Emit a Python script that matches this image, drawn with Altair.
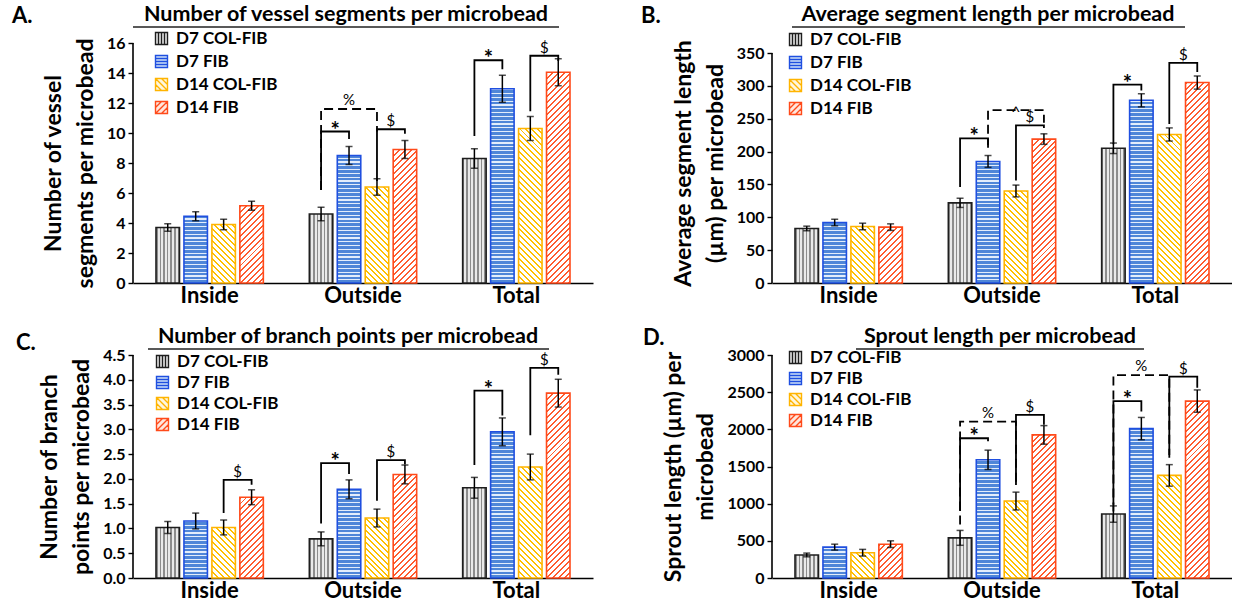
import math
import altair as alt

FONT = "Lato"
CATS = ["Inside", "Outside", "Total"]
SERIES = ["D7 COL-FIB", "D7 FIB", "D14 COL-FIB", "D14 FIB"]

# bar styling (outline, hatch line colour, hatch background, hatch kind, period, line thickness)
STROKE_COLORS = ["#1e1e1e", "#1f4fe0", "#ffb400", "#ff4a1a"]
LINE_COLORS = ["#8c8c8c", "#4f86d8", "#ffc000", "#ff5b2e"]
BG_COLORS = ["#e9e9e9", "#e3edfb", "#ffffff", "#ffffff"]
LEGEND_FILLS = ["#e9e9e9", "#cfe0f7", "#fff6dc", "#ffe6dc"]
HATCH = ["v", "h", "bs", "fs"]
PERIODS = [3.6, 3.8, 4.2, 4.2]
THICK = [1.6, 2.6, 1.4, 1.4]

SQ = "M-1,-1H1V1H-1Z"
LEGEND_PATHS = [
    SQ + "M-0.5,-1V1M0,-1V1M0.5,-1V1",
    SQ + "M-1,-0.5H1M-1,0H1M-1,0.5H1",
    SQ + "M0,-1L1,0M-1,-1L1,1M-1,0L0,1",
    SQ + "M-1,0L0,-1M-1,1L1,-1M0,1L1,0",
]

# ---------------- data (means and SEM per series across Inside / Outside / Total)
A_MEAN = {"D7 COL-FIB": [3.7, 4.6, 8.3], "D7 FIB": [4.45, 8.5, 12.95],
          "D14 COL-FIB": [3.9, 6.4, 10.3], "D14 FIB": [5.15, 8.9, 14.05]}
A_ERR = {"D7 COL-FIB": [0.25, 0.45, 0.65], "D7 FIB": [0.3, 0.6, 0.9],
         "D14 COL-FIB": [0.35, 0.55, 0.8], "D14 FIB": [0.3, 0.6, 0.9]}
# brackets: (category, left series, right series, left foot, top, right foot, symbol, dashed)
A_BRACKETS = [("Outside", 0, 1, 6.2, 10.1, 9.6, "*", False),
              ("Outside", 0, 2, 6.2, 11.6, 10.1, "%", True),
              ("Outside", 2, 3, 6.8, 10.25, 9.95, "$", False),
              ("Total", 0, 1, 9.8, 14.85, 14.25, "*", False),
              ("Total", 2, 3, 11.45, 15.15, 14.8, "$", False)]

B_MEAN = {"D7 COL-FIB": [83, 122, 205], "D7 FIB": [92, 185, 278],
          "D14 COL-FIB": [86, 140, 226], "D14 FIB": [85, 219, 305]}
B_ERR = {"D7 COL-FIB": [3.5, 7, 8], "D7 FIB": [5, 9, 10],
         "D14 COL-FIB": [5, 9, 10], "D14 FIB": [5, 8, 10]}
B_BRACKETS = [("Outside", 0, 1, 146, 220, 210, "*", False),
              ("Outside", 1, 3, 206, 263, 244, "^", True),
              ("Outside", 2, 3, 156, 240, 236, "$", False),
              ("Total", 0, 1, 211, 302, 293, "*", False),
              ("Total", 2, 3, 242, 335, 321, "$", False)]

C_MEAN = {"D7 COL-FIB": [1.02, 0.79, 1.82], "D7 FIB": [1.15, 1.79, 2.95],
          "D14 COL-FIB": [1.02, 1.21, 2.24], "D14 FIB": [1.63, 2.09, 3.73]}
C_ERR = {"D7 COL-FIB": [0.12, 0.14, 0.21], "D7 FIB": [0.16, 0.19, 0.28],
         "D14 COL-FIB": [0.15, 0.18, 0.26], "D14 FIB": [0.15, 0.19, 0.28]}
C_BRACKETS = [("Inside", 2, 3, 1.31, 1.98, 1.88, "$", False),
              ("Outside", 0, 1, 1.1, 2.32, 2.1, "*", False),
              ("Outside", 2, 3, 1.56, 2.38, 2.29, "$", False),
              ("Total", 0, 1, 2.28, 3.78, 3.28, "*", False),
              ("Total", 2, 3, 2.88, 4.24, 4.1, "$", False)]

D_MEAN = {"D7 COL-FIB": [310, 540, 860], "D7 FIB": [415, 1590, 2010],
          "D14 COL-FIB": [340, 1035, 1380], "D14 FIB": [455, 1925, 2380]}
D_ERR = {"D7 COL-FIB": [25, 100, 110], "D7 FIB": [40, 130, 150],
         "D14 COL-FIB": [45, 120, 145], "D14 FIB": [45, 125, 150]}
D_BRACKETS = [("Outside", 0, 1, 900, 1880, 1840, "*", False),
              ("Outside", 0, 2, 720, 2105, 1230, "%", True),
              ("Outside", 2, 3, 1250, 2195, 2060, "$", False),
              ("Total", 0, 1, 985, 2380, 2240, "*", False),
              ("Total", 0, 2, 895, 2730, 1565, "%", True),
              ("Total", 2, 3, 1655, 2710, 2560, "$", False)]

TXT_STYLE = {"*": dict(fontSize=22, fontWeight="bold", dy=6),
             "$": dict(fontSize=15, fontWeight="normal", dy=-3),
             "%": dict(fontSize=15, fontWeight="normal", dy=-4),
             "^": dict(fontSize=16, fontWeight="normal", dy=7)}


def stripes(kind, w, h, line, bg, period, thick):
    w = max(w, 1.0)
    h = max(h, 1.0)
    if kind == "v":
        L = w
        g = dict(x1=0, y1=0, x2=1, y2=0)
    elif kind == "h":
        L = h
        g = dict(x1=0, y1=1, x2=0, y2=0)
    else:
        k = (w + h) * w / (w * w + h * h)
        L = (w + h) / math.sqrt(2)
        if kind == "bs":
            g = dict(x1=0, y1=1, x2=k, y2=1 - k * h / w)
        else:
            g = dict(x1=0, y1=0, x2=k, y2=k * h / w)
    step = period / L
    tf = thick / L
    stops = []
    t = 0.0
    while t < 1:
        b = min(t + tf, 1.0)
        c = min(t + step, 1.0)
        stops += [{"offset": round(t, 5), "color": line}, {"offset": round(b, 5), "color": line},
                  {"offset": round(b, 5), "color": bg}, {"offset": round(c, 5), "color": bg}]
        t += step
    return {"gradient": "linear", **g, "stops": stops}


def panel(cfg):
    W, H, DOM = cfg["W"], cfg["H"], cfg["dom"]
    step = W / 3.0
    bw = 0.7 * step
    ostep = bw / (4 - 0.16)
    barw = ostep * (1 - 0.16)

    rows = []
    for si, s in enumerate(SERIES):
        for ci, c in enumerate(CATS):
            v = cfg["mean"][s][ci]
            e = cfg["err"][s][ci]
            rows.append({"cat": c, "series": s, "v": v, "lo": v - e, "hi": v + e,
                         "stroke": STROKE_COLORS[si],
                         "grad": stripes(HATCH[si], barw, v / DOM * H, LINE_COLORS[si],
                                         BG_COLORS[si], PERIODS[si], THICK[si])})
    data = alt.Data(values=rows)

    xscale = alt.Scale(domain=CATS, paddingInner=0.3, paddingOuter=0.15, align=0.5)
    oscale = alt.Scale(domain=SERIES, paddingInner=0.16, paddingOuter=0)
    yscale = alt.Scale(domain=[0, DOM], nice=False, zero=True)

    xaxis = alt.Axis(labelFont=FONT, labelFontSize=22, labelFontWeight="bold", labelColor="black",
                     ticks=False, domainColor="black", domainWidth=1.6, labelPadding=2, labelAngle=0,
                     grid=False)
    ticks = cfg["ticks"]
    yaxis = alt.Axis(values=ticks, format=cfg["fmt"], labelFont=FONT, labelFontSize=16,
                     labelFontWeight="bold", labelColor="black", tickColor="black", tickSize=5,
                     tickWidth=1.4, domain=False, grid=False, titleFont=FONT, titleFontSize=23,
                     titleFontWeight="bold", titleColor="black", titlePadding=9,
                     titleLineHeight=32, labelPadding=3)

    def X():
        return alt.X("cat:N", scale=xscale, axis=xaxis, title=None)

    def XO():
        return alt.XOffset("series:N", scale=oscale)

    def Y(field):
        return alt.Y(field, scale=yscale, axis=yaxis, title=cfg["ytitle"], stack=None)

    bars = alt.Chart(data).mark_bar(strokeWidth=1.6).encode(
        x=X(), xOffset=XO(), y=Y("v:Q"),
        fill=alt.Fill("grad:N", scale=None),
        stroke=alt.Stroke("stroke:N", scale=None),
    )
    err = alt.Chart(data).mark_rule(color="black", strokeWidth=1.5).encode(
        x=X(), xOffset=XO(), y=Y("lo:Q"), y2="hi:Q")
    cap_lo = alt.Chart(data).mark_tick(color="black", thickness=1.5, size=7).encode(
        x=X(), xOffset=XO(), y=Y("lo:Q"))
    cap_hi = alt.Chart(data).mark_tick(color="black", thickness=1.5, size=7).encode(
        x=X(), xOffset=XO(), y=Y("hi:Q"))

    # significance brackets
    solid_pts, dash_pts, txt = [], [], []
    for bi, (cat, l, r, yl, yt, yr, sym, dashed) in enumerate(cfg["brackets"]):
        pts = [(SERIES[l], yl, 0), (SERIES[l], yt, 1), (SERIES[r], yt, 2), (SERIES[r], yr, 3)]
        target = dash_pts if dashed else solid_pts
        for s, yv, o in pts:
            target.append({"cat": cat, "series": s, "v": yv, "bid": bi, "ord": o})
        txt.append({"cat": cat, "series": SERIES[l], "v": yt, "sym": sym, "span": r - l})

    layers = [bars, err, cap_lo, cap_hi]

    def bracket_layer(pts, dashed):
        mk = dict(color="black", strokeWidth=1.8)
        if dashed:
            mk["strokeDash"] = [9, 5]
            mk["xOffset"] = cfg["dash_shift"]
        return alt.Chart(alt.Data(values=pts)).mark_line(**mk).encode(
            x=X(), xOffset=XO(), y=Y("v:Q"), detail="bid:N", order="ord:Q")

    if solid_pts:
        layers.append(bracket_layer(solid_pts, False))
    if dash_pts:
        layers.append(bracket_layer(dash_pts, True))

    groups = {}
    for t in txt:
        groups.setdefault((t["sym"], t["span"]), []).append(t)
    for (sym, span), vals in groups.items():
        st = TXT_STYLE[sym]
        layers.append(alt.Chart(alt.Data(values=vals)).mark_text(
            font=FONT, fontSize=st["fontSize"], fontWeight=st["fontWeight"], color="black",
            align="center", baseline="alphabetic", dx=span * ostep / 2, dy=st["dy"]).encode(
            x=X(), xOffset=XO(), y=Y("v:Q"), text="sym:N"))

    # y axis line (from 0 to top tick)
    layers.append(alt.Chart(alt.Data(values=[{"a": 0, "b": ticks[-1]}])).mark_rule(
        color="black", strokeWidth=1.6).encode(x=alt.value(0), y=Y("a:Q"), y2="b:Q"))

    # panel title (underlined) and panel letter
    tx, ty = cfg["title_pos"]
    layers.append(alt.Chart(alt.Data(values=[{}])).mark_text(
        text=cfg["title"], font=FONT, fontSize=21.5, fontWeight="bold", color="black",
        align="center", baseline="middle").encode(x=alt.value(tx), y=alt.value(ty)))
    u0, u1, uy = cfg["underline"]
    layers.append(alt.Chart(alt.Data(values=[{}])).mark_rule(color="#222222", strokeWidth=1.4).encode(
        x=alt.value(u0), x2=alt.value(u1), y=alt.value(uy)))
    lx, ly = cfg["letter_pos"]
    layers.append(alt.Chart(alt.Data(values=[{}])).mark_text(
        text=cfg["letter"], font=FONT, fontSize=22, fontWeight="bold", color="black",
        align="left", baseline="middle").encode(x=alt.value(lx), y=alt.value(ly)))

    # legend (hidden layer carrying the series scales)
    lgx, lgy, rp = cfg["legend"]
    leg = alt.Legend(title=None, orient="none", legendX=lgx, legendY=lgy, labelFont=FONT,
                     labelFontSize=17, labelFontWeight="bold", labelColor="black",
                     symbolSize=144, symbolStrokeWidth=1.4, symbolOpacity=1,
                     rowPadding=rp, labelOffset=6, padding=0)
    leg_rows = [{"cat": CATS[0], "series": s, "v": 0} for s in SERIES]
    layers.append(alt.Chart(alt.Data(values=leg_rows)).mark_point(opacity=0, filled=True).encode(
        x=X(), y=Y("v:Q"),
        shape=alt.Shape("series:N", scale=alt.Scale(domain=SERIES, range=LEGEND_PATHS), legend=leg),
        stroke=alt.Stroke("series:N", scale=alt.Scale(domain=SERIES, range=STROKE_COLORS), legend=leg),
        fill=alt.Fill("series:N", scale=alt.Scale(domain=SERIES, range=LEGEND_FILLS), legend=leg)))

    return alt.layer(*layers).properties(width=W, height=H)


W = 460
pa = panel(dict(W=W, H=240, dom=16, ticks=list(range(0, 17, 2)), fmt="d",
                mean=A_MEAN, err=A_ERR, brackets=A_BRACKETS, dash_shift=-6,
                ytitle=["Number of vessel", "segments per microbead"],
                title="Number of vessel segments per microbead", title_pos=(213, -28),
                underline=(0, 426, -16), letter="A.", letter_pos=(-121, -27), legend=(20, -13, 4)))
pb = panel(dict(W=W, H=240, dom=350 * 240 / 230, ticks=list(range(0, 351, 50)), fmt="d",
                mean=B_MEAN, err=B_ERR, brackets=B_BRACKETS, dash_shift=5,
                ytitle=["Average segment length", "(µm) per microbead"],
                title="Average segment length per microbead", title_pos=(216, -28),
                underline=(20, 413, -16), letter="B.", letter_pos=(-131, -27), legend=(15, -12, 4)))
pc = panel(dict(W=W, H=223, dom=4.5, ticks=[i * 0.5 for i in range(10)], fmt=".1f",
                mean=C_MEAN, err=C_ERR, brackets=C_BRACKETS, dash_shift=-5,
                ytitle=["Number of branch", "points per microbead"],
                title="Number of branch points per microbead", title_pos=(215, -18),
                underline=(15, 416, -6), letter="C.", letter_pos=(-117, -12), legend=(21, -2, 2)))
pd_ = panel(dict(W=W, H=223, dom=3000, ticks=list(range(0, 3001, 500)), fmt="d",
                 mean=D_MEAN, err=D_ERR, brackets=D_BRACKETS, dash_shift=-4,
                 ytitle=["Sprout length (µm) per", "microbead"],
                 title="Sprout length per microbead", title_pos=(228, -18),
                 underline=(84, 372, -6), letter="D.", letter_pos=(-129, -17), legend=(15, -6, 2)))

chart = alt.concat(pa, pb, pc, pd_, columns=2, spacing={"row": 20, "column": 48}).resolve_scale(
    shape="independent", stroke="independent", fill="independent", xOffset="independent",
    y="independent", x="independent"
).resolve_legend(shape="independent", stroke="independent", fill="independent").properties(
    padding={"left": 12, "top": 4, "right": 0, "bottom": 0}, background="white"
).configure_view(stroke=None)

chart.save("out.html", embed_options={"renderer": "svg", "actions": False})
